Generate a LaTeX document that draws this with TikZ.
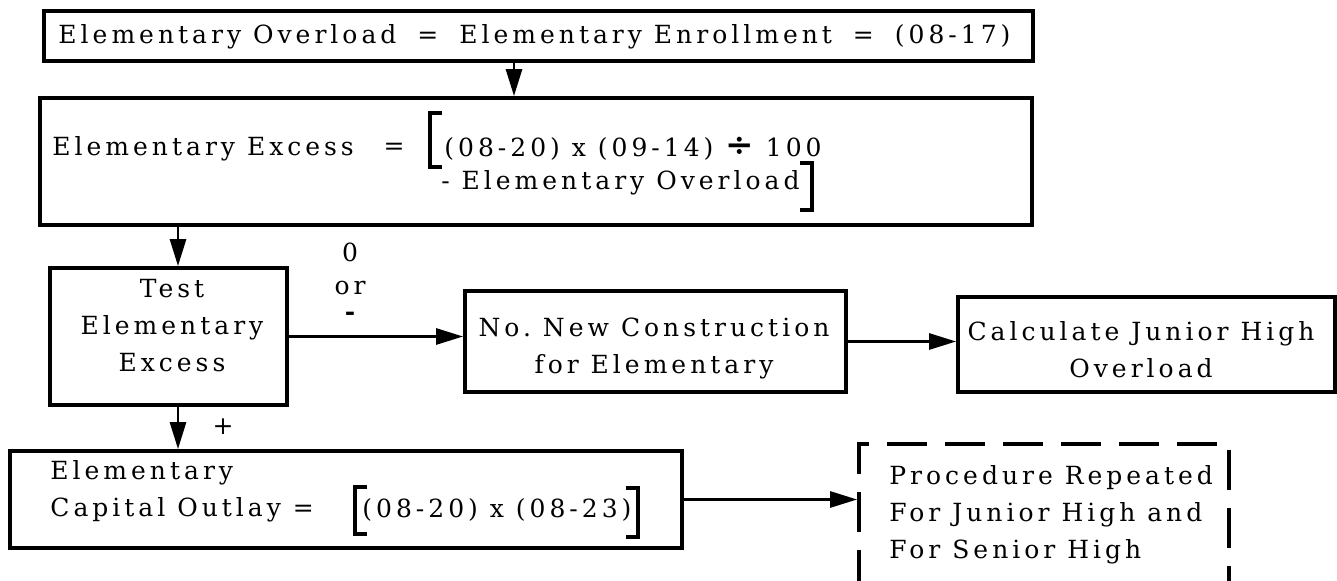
\documentclass[tikz,border=0pt]{standalone}
\usepackage{fontspec}
\setmainfont{DejaVu Serif}[LetterSpace=16]
\usetikzlibrary{arrows.meta}
\begin{document}
\begin{tikzpicture}[x=0.5pt,y=-0.5pt,
  box/.style={draw, line width=1.9pt, rectangle, inner sep=0pt},
  dbox/.style={box, dash pattern=on 20pt off 9pt},
  txt/.style={inner sep=0pt, font=\fontsize{12.5pt}{18.5pt}\selectfont},
  arr/.style={line width=1.4pt, -{Triangle[length=13.5pt,width=8pt]}},
  brk/.style={line width=2pt}]
\useasboundingbox (0,0) rectangle (1337,581);

% boxes
\node[box, minimum width=494.5pt, minimum height=25pt]   (ov)    at (538.5,36)   {};
\node[box, minimum width=496pt,   minimum height=63.5pt] (exc)   at (536,161.5)  {};
\node[box, minimum width=118.5pt, minimum height=68.5pt] (test)  at (168.5,336.5) {};
\node[box, minimum width=190.5pt, minimum height=50.5pt] (nonew) at (655.5,341.5) {};
\node[box, minimum width=188.5pt, minimum height=47.5pt] (calc)  at (1146.5,344.5) {};
\node[box, minimum width=336pt,   minimum height=48.5pt] (cap)   at (346,499.5)  {};
\node[dbox, minimum width=185pt,  minimum height=70pt]   (rep)   at (1044,514)   {};

% texts
\node[txt] (ovt) at (534.5,37)
  {Elementary Overload\hspace{10.5pt}=\hspace{10.5pt}Elementary Enrollment\hspace{10.5pt}=\hspace{10.5pt}(08-17)};
\node[txt, anchor=west] (exa) at (52,149) {Elementary Excess};
\node[txt] (exeq) at (394,149) {=};
\node[txt, anchor=west] (exb) at (444,149)
  {(08-20) x (09-14) {\fontsize{17pt}{17pt}\selectfont\bfseries ÷} 100};
\node[txt, anchor=east] (exc2) at (800,183) {- Elementary Overload};
\node[txt, align=center] (testt) at (172,326) {Test\\Elementary\\Excess};
\node[txt, align=center] (nonewt) at (654,348.5) {No.\ New Construction\\for Elementary};
\node[txt, align=center] (calct) at (1141,349.5) {Calculate Junior High\\Overload};
\node[txt, align=left, anchor=west] (capa) at (50,491) {Elementary\\Capital Outlay =};
\node[txt, anchor=west] (capb) at (362,510) {(08-20) x (08-23)};
\node[txt, align=left, anchor=west] (rept) at (889,515)
  {Procedure Repeated\\For Junior High and\\For Senior High};

% branch labels
\node[txt] (lzero) at (350,252) {0};
\node[txt] (lor)   at (350,288) {or};
\node[txt] (lneg)  at (350,316) {\bfseries -};
\node[txt] (lpos)  at (223,427) {+};

% brackets
\draw[brk] (442,113) -- (430,113) -- (430,167) -- (442,167);
\draw[brk] (800,163) -- (812,163) -- (812,210) -- (800,210);
\draw[brk] (367,487) -- (355,487) -- (355,534) -- (367,534);
\draw[brk] (626,488) -- (638,488) -- (638,537) -- (626,537);

% connectors
\draw[arr] ([xshift=-12.25pt]ov.south) -- ([xshift=-12.25pt]ov.south |- exc.north);
\draw[arr] ([xshift=4.75pt]test.north |- exc.south) -- ([xshift=4.75pt]test.north);
\draw[arr] (test.east) -- (test.east -| nonew.west);
\draw[arr] (nonew.east) -- (nonew.east -| calc.west);
\draw[arr] ([xshift=4.75pt]test.south) -- ([xshift=4.75pt]test.south |- cap.north);
\draw[arr] (cap.east) -- (cap.east -| rep.west);
\end{tikzpicture}
\end{document}
